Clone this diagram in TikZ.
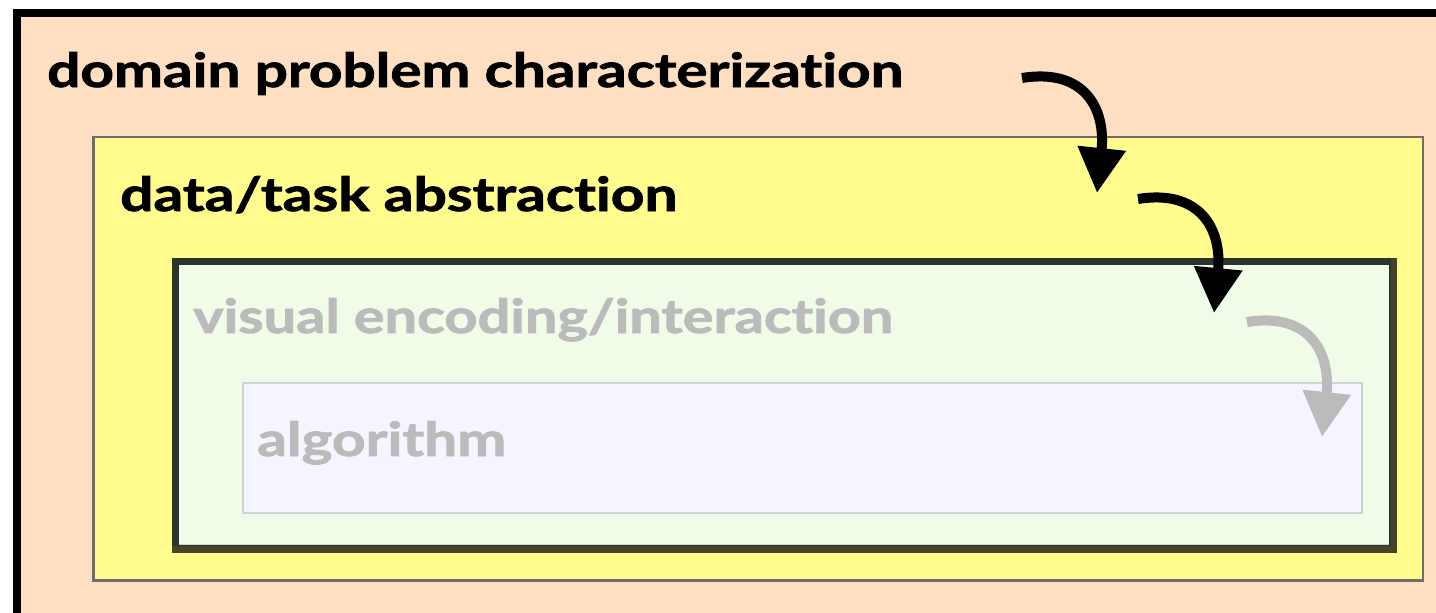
\documentclass[tikz,border=0pt]{standalone}
\usepackage{fontspec}
\setmainfont{Lato}[Ligatures=NoCommon, BoldFeatures={FakeBold=1.6}]
\usetikzlibrary{arrows.meta,calc}

\definecolor{peach}{HTML}{FFDFC1}
\definecolor{lemon}{HTML}{FFFB8C}
\definecolor{lemonedge}{HTML}{6E6E6E}
\definecolor{mint}{HTML}{F0FCE7}
\definecolor{olive}{HTML}{45442A}
\definecolor{darkframe}{HTML}{2C332A}
\definecolor{lilac}{HTML}{F5F5FF}
\definecolor{lilacedge}{HTML}{D2D2D2}
\definecolor{faded}{HTML}{BBBBBB}

\newcommand{\fitw}[2]{\resizebox{#1}{\height}{#2}}

\tikzset{
  label text/.style={anchor=base west, inner sep=0pt, font=\fontsize{47}{56}\selectfont\bfseries},
  flow/.style={line width=10pt, -{Triangle[length=45pt,width=46pt]}},
}

\begin{document}
\begin{tikzpicture}[x=1pt, y=-1pt]
  \useasboundingbox (0,0) rectangle (1436,613);
  \clip (0,0) rectangle (1436,613);
  \fill[white] (0,0) rectangle (1436,613);

  % outermost level
  \draw[line width=8pt, fill=peach] (17,13) rectangle (1460,640);
  \node[label text] (domain) at (47,87) {\fitw{856pt}{domain problem characterization}};

  % abstraction level
  \draw[line width=2.5pt, draw=lemonedge, fill=lemon] (93.7,136.8) rectangle (1422.8,580.3);
  \node[label text] (abstr) at (120,211) {\fitw{557pt}{data/task abstraction}};

  % encoding level with its dark frame
  \fill[olive] (172,258) rectangle (1397,553);
  \fill[darkframe] (172,258) rectangle (1390.5,546);
  \fill[mint] (179,265) rectangle (1389,545);
  \draw[line width=1.5pt, lilacedge] (179,544.5) -- (1389,544.5);
  \node[label text, text=faded] (enc) at (193,333) {\fitw{700pt}{visual encoding/interaction}};

  % algorithm level
  \draw[line width=2pt, draw=lilacedge, fill=lilac] (243,383) rectangle (1362,513);
  \node[label text, text=faded] (algo) at (257,456) {\fitw{249pt}{algorithm}};

  % arrows between levels
  \coordinate (a1s) at (1022,78);
  \coordinate (a1e) at (1097,193);
  \coordinate (a2s) at (1138,199);
  \coordinate (a2e) at (1214,313);
  \coordinate (a3s) at (1247,322);
  \coordinate (a3e) at (1322,437);

  \draw[flow, black] (a1s) .. controls ($(a1s)+(62,-10)$) and ($(a1s)+(84,30)$) .. (a1e);
  \draw[flow, black] (a2s) .. controls ($(a2s)+(62,-10)$) and ($(a2s)+(84,30)$) .. (a2e);
  \draw[flow, faded] (a3s) .. controls ($(a3s)+(62,-10)$) and ($(a3s)+(84,30)$) .. (a3e);
\end{tikzpicture}
\end{document}
